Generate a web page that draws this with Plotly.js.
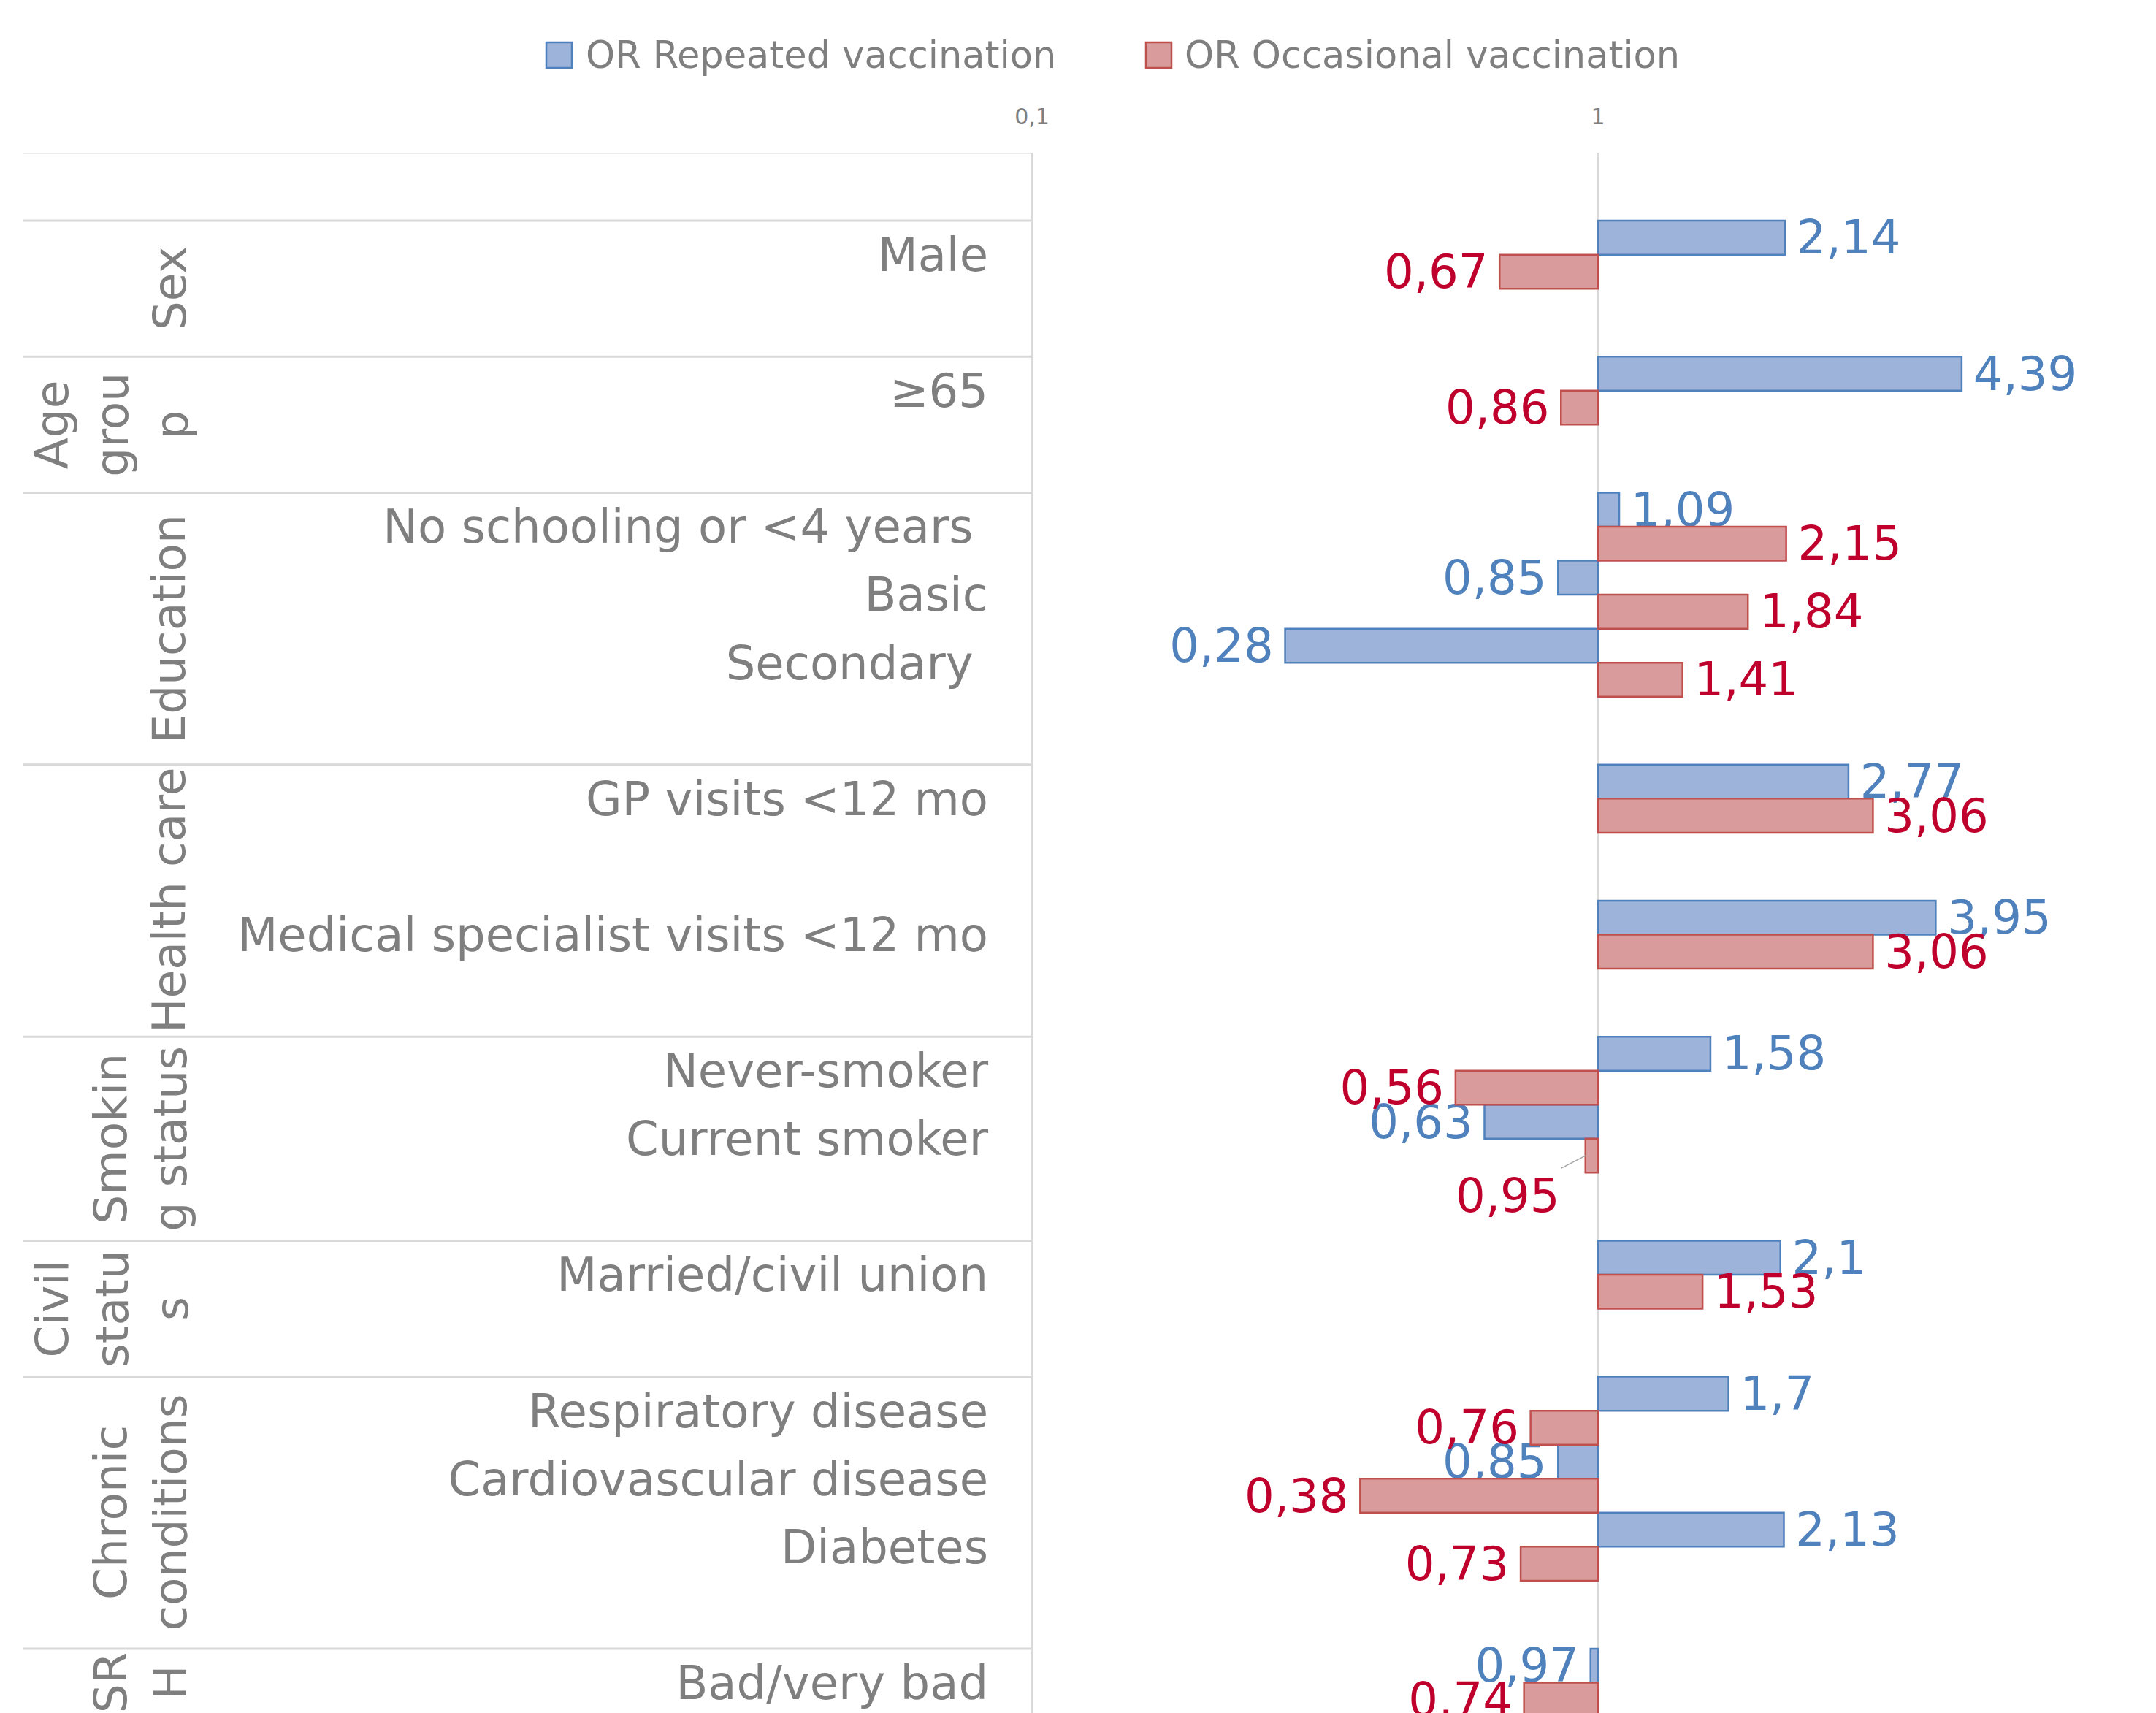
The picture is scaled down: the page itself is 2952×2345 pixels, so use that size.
<!DOCTYPE html>
<html>
<head>
<meta charset="utf-8">
<script src="https://cdn.plot.ly/plotly-3.0.1.min.js"></script>
<style>
html,body{margin:0;padding:0;overflow:hidden;background:#ffffff;}
#chart{width:2952px;height:2345px;}
</style>
</head>
<body>
<div id="chart"></div>
<script>
// ---------------- data ----------------
const groupNames = ['', 'Sex', 'Age group', 'Education', 'Health care', 'Smoking status', 'Civil status', 'Chronic conditions', 'SRH'];
const groupLabelText = ['', 'Sex', 'Age<br>grou<br>p', 'Education', 'Health care', 'Smokin<br>g status', 'Civil<br>statu<br>s', 'Chronic<br>conditions', 'SR<br>H'];
const categoryLabels = ['', 'Male', '', '\u226565', '', 'No schooling or <4 years\u00a0', 'Basic', 'Secondary\u00a0', '',
  'GP visits <12 mo', '', 'Medical specialist visits <12 mo', '', 'Never-smoker', 'Current smoker', '',
  'Married/civil union', '', 'Respiratory disease', 'Cardiovascular disease', 'Diabetes', '', 'Bad/very bad'];
const categoryGroup = [0, 1, 1, 2, 2, 3, 3, 3, 3, 4, 4, 4, 4, 5, 5, 5, 6, 6, 7, 7, 7, 7, 8];
const orRepeated = [null, 2.14, null, 4.39, null, 1.09, 0.85, 0.28, null, 2.77, null, 3.95, null, 1.58, 0.63, null, 2.1, null, 1.7, 0.85, 2.13, null, 0.97];
const orOccasional = [null, 0.67, null, 0.86, null, 2.15, 1.84, 1.41, null, 3.06, null, 3.06, null, 0.56, 0.95, null, 1.53, null, 0.76, 0.38, 0.73, null, 0.74];
const seriesNames = ['OR Repeated vaccination', 'OR Occasional vaccination'];
const xTickVals = [0.1, 1, 10];
const xTickText = ['0,1', '1', '10'];
// label moved away from its bar with a leader line (series index, category)
const leaderLabel = {series: 1, category: 'Current smoker'};

// ---------------- layout constants ----------------
const W = 2952, H = 2345;
const ML = 1413, MT = 209;
const plotW = W - ML, plotH = H - MT;
const decadePx = 775;
const slotPx = 93.09;
const GRAY = '#7f7f7f';
const FONT = 'DejaVu Sans';
const blue = {fill: '#9db3d9', line: '#4f81bd', text: '#4f81bd'};
const red = {fill: '#d99b9b', line: '#c0504d', text: '#c0002c'};

const pxX = px => (px - ML) / plotW;
const pxY = py => 1 - (py - MT) / plotH;
const fmt = v => String(v).replace('.', ',');

function makeTrace(values, colors, name, offset, sIdx) {
  const y = [], x = [], text = [];
  values.forEach((v, i) => {
    if (v === null) return;
    y.push(i);
    x.push(v - 1);
    const hide = sIdx === leaderLabel.series && categoryLabels[i] === leaderLabel.category;
    const lbl = fmt(v);
    text.push(hide ? '' : (v >= 1 ? '\u2009' + lbl : lbl + '\u2009'));
  });
  return {
    type: 'bar', orientation: 'h', name: name,
    y: y, x: x, base: 1, width: 0.5, offset: offset,
    text: text, textposition: 'outside', constraintext: 'none', cliponaxis: false,
    textfont: {family: FONT, size: 64, color: colors.text},
    marker: {color: colors.fill, line: {color: colors.line, width: 2.5}},
    hoverinfo: 'skip', showlegend: false
  };
}

const traces = [
  makeTrace(orRepeated, blue, seriesNames[0], -0.5, 0),
  makeTrace(orOccasional, red, seriesNames[1], 0, 1)
];

// y tick labels (category names)
const tickvals = [], ticktext = [];
categoryLabels.forEach((l, i) => { if (l !== '') { tickvals.push(i); ticktext.push(l); } });

// group boundaries and group label positions
const shapes = [];
const annotations = [];
for (let g = 0; g < groupNames.length; g++) {
  const idx = categoryGroup.map((c, i) => c === g ? i : -1).filter(i => i >= 0);
  const first = idx[0], last = idx[idx.length - 1];
  shapes.push({type: 'line', xref: 'paper', yref: 'y', x0: pxX(32), x1: 0, y0: first - 0.5, y1: first - 0.5,
    line: {color: '#d9d9d9', width: 3}});
  if (groupLabelText[g]) {
    const nLines = groupLabelText[g].split('<br>').length;
    annotations.push({
      xref: 'paper', yref: 'y', x: pxX(232 - (nLines - 1) * 78.5 / 2), y: (first + last) / 2,
      text: groupLabelText[g], textangle: -90, showarrow: false, align: 'center',
      xanchor: 'center', yanchor: 'middle',
      font: {family: FONT, size: 63, color: GRAY}
    });
  }
}
// table right border (axis at 0,1)
shapes.push({type: 'line', xref: 'paper', yref: 'paper', x0: 0, x1: 0, y0: 0, y1: 1, line: {color: '#d9d9d9', width: 2}});

// leader-line label
{
  const ci = categoryLabels.indexOf(leaderLabel.category);
  const v = (leaderLabel.series === 0 ? orRepeated : orOccasional)[ci];
  annotations.push({
    xref: 'x', yref: 'y', x: Math.log10(v), y: ci + 0.25,
    text: fmt(v), showarrow: true, arrowhead: 0, arrowwidth: 1.5, arrowcolor: '#a6a6a6',
    ax: -106, ay: 55, standoff: 0,
    font: {family: FONT, size: 64, color: red.text}
  });
}

// legend (drawn manually to match the large swatches)
const legendItems = [
  {name: seriesNames[0], c: blue, box: 748, txt: 800},
  {name: seriesNames[1], c: red, box: 1569, txt: 1620}
];
legendItems.forEach(it => {
  shapes.push({type: 'rect', xref: 'paper', yref: 'paper', x0: pxX(it.box), x1: pxX(it.box + 35),
    y0: pxY(93), y1: pxY(58), fillcolor: it.c.fill, line: {color: it.c.line, width: 2.5}});
  annotations.push({xref: 'paper', yref: 'paper', x: pxX(it.txt), y: pxY(76), xanchor: 'left', yanchor: 'middle',
    text: it.name, showarrow: false, font: {family: FONT, size: 51, color: GRAY}});
});

const layout = {
  width: W, height: H,
  margin: {l: ML, r: 0, t: MT, b: 0, pad: 0},
  paper_bgcolor: '#ffffff', plot_bgcolor: '#ffffff',
  font: {family: FONT, color: GRAY},
  separators: ', ',
  barmode: 'overlay',
  showlegend: false,
  xaxis: {
    type: 'log', side: 'top', range: [-1, -1 + plotW / decadePx],
    tickvals: xTickVals, ticktext: xTickText,
    tickfont: {family: FONT, size: 30, color: GRAY},
    showgrid: true, gridcolor: '#d9d9d9', gridwidth: 2,
    showline: false, zeroline: false, ticks: '', ticklabelstandoff: 32, fixedrange: true
  },
  yaxis: {
    type: 'linear', range: [-0.5 + plotH / slotPx, -0.5],
    tickvals: tickvals, ticktext: ticktext,
    tickfont: {family: FONT, size: 64, color: GRAY},
    showgrid: false, zeroline: false, showline: false, ticks: '', ticklabelstandoff: 59, fixedrange: true
  },
  shapes: shapes,
  annotations: annotations
};

Plotly.newPlot('chart', traces, layout, {displayModeBar: false, staticPlot: true});
</script>
</body>
</html>
